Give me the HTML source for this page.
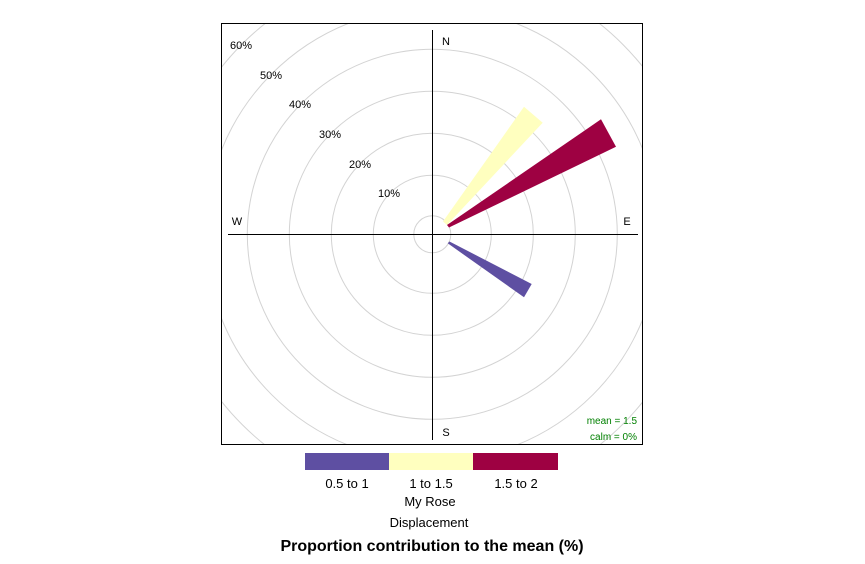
<!DOCTYPE html>
<html><head><style>body{margin:0;background:#fff}</style></head><body>
<svg width="865" height="559" xmlns="http://www.w3.org/2000/svg" font-family="Liberation Sans, sans-serif">
<defs><clipPath id="c"><rect x="221" y="23" width="422" height="422"/></clipPath></defs>
<g clip-path="url(#c)" fill="none" stroke="#d3d3d3" stroke-width="1">
<circle cx="432.3" cy="234.3" r="18.5"/>
<circle cx="432.3" cy="234.3" r="59"/>
<circle cx="432.3" cy="234.3" r="101"/>
<circle cx="432.3" cy="234.3" r="143"/>
<circle cx="432.3" cy="234.3" r="185"/>
<circle cx="432.3" cy="234.3" r="227"/>
<circle cx="432.3" cy="234.3" r="269"/>
</g>
<line x1="228" y1="234.5" x2="638" y2="234.5" stroke="#000"/>
<line x1="432.5" y1="30" x2="432.5" y2="440" stroke="#000"/>
<polygon points="443,221.5 447,225 542.7,122.7 524,106.7" fill="#FFFFBF"/>
<polygon points="447,225 449,227.5 616,146.7 601,119.3" fill="#9E0142"/>
<polygon points="447.7,243.3 449.5,241.5 531.7,284 524,297.3" fill="#5E4FA2"/>
<rect x="221.5" y="23.5" width="421" height="421" fill="none" stroke="#000"/>
<g font-size="11" fill="#000" text-anchor="middle">
<text x="241" y="49">60%</text><text x="271" y="79">50%</text><text x="300" y="108">40%</text>
<text x="330" y="138">30%</text><text x="360" y="168">20%</text><text x="389" y="197">10%</text>
<text x="446" y="45">N</text><text x="446" y="436">S</text><text x="237" y="225">W</text><text x="627" y="225">E</text>
</g>
<g font-size="10" fill="#008000" text-anchor="end">
<text x="637" y="424">mean = 1.5</text><text x="637" y="440">calm = 0%</text>
</g>
<rect x="305" y="453" width="84" height="17" fill="#5E4FA2"/>
<rect x="389" y="453" width="84" height="17" fill="#FFFFBF"/>
<rect x="473" y="453" width="85" height="17" fill="#9E0142"/>
<g font-size="13" fill="#000" text-anchor="middle">
<text x="347" y="488">0.5 to 1</text><text x="431" y="488">1 to 1.5</text><text x="516" y="488">1.5 to 2</text>
<text x="430" y="506">My Rose</text><text x="429" y="527">Displacement</text>
</g>
<text x="432" y="551" font-size="16" font-weight="bold" text-anchor="middle">Proportion contribution to the mean (%)</text>
</svg>
</body></html>
